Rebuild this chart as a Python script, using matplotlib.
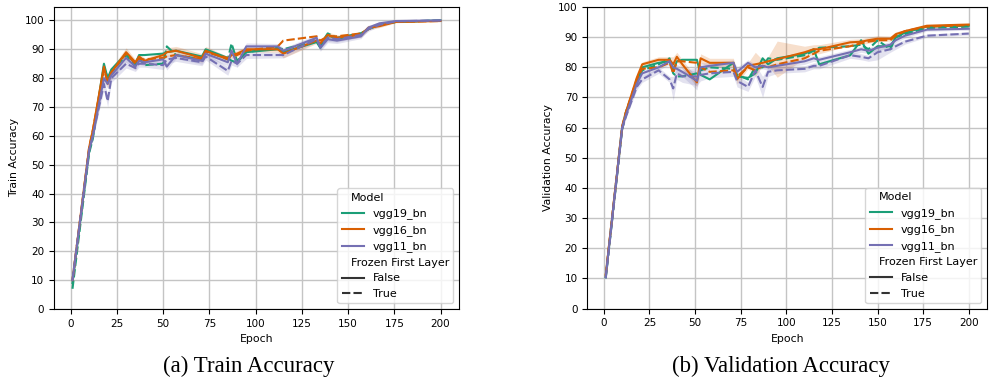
"""
Train and validation accuracy per epoch, VGG variants with and without frozen first layer.
"""

import matplotlib
matplotlib.use('Agg')
import matplotlib.pyplot as plt
from matplotlib.lines import Line2D
from matplotlib.offsetbox import HPacker, DrawingArea
import numpy as np


# Settings
plt.rcParams['font.family'] = 'DejaVu Sans'
plt.rcParams['font.size'] = 7.5
figsize = (9.89, 3.87)

models = ['vgg19_bn', 'vgg16_bn', 'vgg11_bn']
frozen = ['False', 'True']
colours = ['#1b9e77', '#d95f02', '#7570b3']

# ---- train accuracy ----
train_epoch = [1, 10, 12, 18, 20, 22, 30, 35, 37, 40, 50, 52, 57, 71, 73,
               85, 87, 90, 95, 112, 115, 133, 135, 139, 144, 157, 161, 167, 176, 200]
train_vgg19_false = [9, 55, 60, 85, 80, 83, 88.5, 85, 88, 88, 88.5, 89, 89.5, 87.5, 90,
                     87, 86, 85.5, 89, 90, 89, 92.5, 90.5, 95, 93.5, 95.5, 97, 98.5, 99.5, 100]
train_vgg19_true = [7, 54, 59, 84, 80, 82, 88, 84.5, 87, 84.5, 85, 91, 88, 86.5, 89.5,
                    86.5, 92, 86, 89, 90.5, 90, 93, 91.5, 95.5, 94, 95.5, 97, 98.5, 99.5, 100]
train_vgg16_false = [10, 56, 62, 84, 78, 82, 89, 85.5, 87.5, 86, 88, 89, 89.5, 87, 89.5,
                     86.5, 88, 88.5, 90, 90, 88.5, 93, 92, 95, 94, 95, 97.5, 98, 99.5, 99.8]
train_vgg16_true = [10, 56, 62, 83, 79, 82, 88.5, 85, 86.5, 86.5, 87, 87.5, 88, 86.5, 89,
                    87, 87.5, 88, 89.5, 91, 93, 94.5, 93, 94.5, 94.5, 95.5, 97, 98.5, 99.5, 99.8]
train_vgg11_false = [10, 55, 60, 80, 78, 81, 87, 84, 86, 85.5, 86.5, 84, 88, 86, 88.5,
                     85.5, 89.5, 85, 91, 91, 89.5, 94, 90.5, 93.5, 93, 94.5, 97.5, 99, 99.8, 100]
train_vgg11_true = [10, 55, 60, 78, 72, 80, 85, 83.5, 85, 85, 84.5, 86.5, 87, 85.5, 87.5,
                    82.5, 86, 85, 88, 88, 88, 93.5, 91, 94, 93.5, 95, 97, 98.5, 99.7, 100]
train_band_vgg16_false = [0.3, 1, 1, 1.5, 1.5, 1.5, 1.5, 1, 1, 1, 1, 1.5, 1.5, 1.5, 1.5,
                          1, 1, 1, 1, 1, 1.5, 1, 1, 1, 1, 0.8, 0.8, 0.5, 0.3, 0.2]
train_band_vgg11_false = [0.3, 1, 1, 1.5, 1.5, 1.5, 1.5, 1.2, 1.2, 1.2, 1.2, 1.2, 1.2, 1.2, 1.2,
                          1.2, 1.2, 1.2, 1.2, 1, 1, 1, 1.2, 1.2, 1, 0.8, 0.8, 0.5, 0.3, 0.2]
train_band_vgg11_true = [0.3, 1, 1, 2, 2, 1.5, 1.5, 1.2, 1.2, 1.2, 1.5, 1.5, 1.2, 1.2, 1.2,
                         1.5, 1.5, 1.2, 1.2, 1, 1, 1, 1.2, 1.2, 1, 0.8, 0.8, 0.5, 0.3, 0.2]

# ---- validation accuracy ----
val_epoch = [1, 10, 12, 18, 21, 30, 36, 38, 40, 43, 51, 53, 58, 71, 73, 79,
             83, 87, 90, 95, 110, 115, 118, 135, 141, 145, 150, 157, 160, 165, 177, 200]
val_vgg19_false = [10.5, 60, 65, 75, 80, 81.5, 82, 79, 82, 82.5, 82.5, 77.5, 76, 81.5, 77, 76.5,
                   78, 83, 81, 83, 84.5, 86, 81, 84, 89, 84.5, 87, 87, 90, 91.5, 93.5, 93.8]
val_vgg19_true = [10, 59.5, 64, 74.5, 79, 81, 83, 78, 77, 77, 78, 79, 80, 79.5, 77.5, 76,
                  80, 80, 83, 82.5, 84, 85.5, 86.5, 87, 87.5, 86, 89, 86, 90, 91, 93, 93.5]
val_vgg16_false = [11, 60, 65, 76.5, 81, 82.5, 82.5, 81, 83.5, 81, 75, 83, 81.5, 81.5, 76, 80.5,
                   81, 81.5, 82, 82.7, 85, 86, 86, 88.3, 88.5, 89, 89.5, 89.5, 91, 92, 93.8, 94.2]
val_vgg16_true = [11, 60.5, 65, 76, 79.5, 80, 81.5, 78, 82, 82, 81.5, 80, 78.5, 79, 77, 80,
                  79, 80.5, 80, 81, 83, 84.5, 85.5, 87, 88, 88.5, 89, 89, 90.5, 92, 93.5, 94]
val_vgg11_false = [10.5, 60, 64, 74.5, 78, 80, 82, 80, 79.5, 78.5, 75.5, 80, 80.5, 81.5, 78.5, 81.5,
                   80, 80.5, 80, 80.5, 82, 83, 82.5, 85, 86, 85.5, 86.5, 87.5, 89, 90.5, 92.5, 92.8]
val_vgg11_true = [10, 59.5, 63.5, 73.5, 76, 79, 76, 73, 78, 77, 77, 77.5, 78, 78.5, 75.5, 73.5,
                  79, 73.5, 78.5, 79, 79.5, 80.5, 80.5, 84, 83.5, 83, 85, 86, 87, 88.5, 90.5, 91.2]
val_band_vgg16_false = [0.3, 0.5, 0.5, 0.8, 0.8, 1, 1, 2.5, 1.5, 1.5, 1.5, 1.5, 1.5, 1.5, 1.5, 1,
                        4, 1, 1.5, 6, 2, 1.5, 1.5, 1, 1, 1, 1, 0.8, 0.8, 0.5, 0.3, 0.3]
val_band_vgg11_false = [0.3, 0.5, 0.5, 1, 1, 1, 1, 1.5, 1.5, 1.5, 3, 1.5, 1, 1, 1.5, 1,
                        1, 1, 1, 1, 1, 1, 1, 1, 1, 1, 1, 1, 0.8, 0.8, 0.5, 0.5]
val_band_vgg11_true = [0.3, 0.5, 0.5, 1, 1, 1, 1, 4, 2, 2, 3, 2, 1.5, 1.5, 2, 1.5,
                       2, 3.5, 1.5, 1, 1, 1, 1, 1, 1, 1, 2.5, 1, 1, 0.8, 0.5, 0.5]


def styles(fr):
    """
    Line style per frozen-layer setting (seaborn style dashes)
    """
    return '-' if fr == 'False' else (0, (4, 1.5))


def graph_accuracy(ax, epoch, series, bands, ylabel, ytop):
    """
    Accuracy curves for all models, with shaded spread where visible
    """
    for i, md in enumerate(models):
        for fr in frozen:
            y = np.array(series[(md, fr)])
            ax.plot(epoch, y, color = colours[i], lw = 1.5, ls = styles(fr))
            if (md, fr) in bands:
                b = np.array(bands[(md, fr)])
                ax.fill_between(epoch, y - b, y + b, color = colours[i],
                                alpha = 0.2, lw = 0)

    ax.set_xlim(-9, 210)
    ax.set_ylim(0, ytop)
    ax.set_xticks(np.arange(0, 201, 25))
    ax.set_yticks(np.arange(0, 101, 10))
    ax.grid(True, color = '#c4c4c4', lw = 1.0)
    ax.set_axisbelow(True)
    ax.set_xlabel('Epoch', fontsize = 7.8)
    ax.set_ylabel(ylabel, fontsize = 7.8)

    # Legend like seaborn: subtitles with invisible handles
    handles = [Line2D([], [], visible = False)]
    handles += [Line2D([], [], color = c, lw = 1.5) for c in colours]
    handles += [Line2D([], [], visible = False),
                Line2D([], [], color = '.2', lw = 1.5, ls = styles('False')),
                Line2D([], [], color = '.2', lw = 1.5, ls = styles('True'))]
    labels = ['Model'] + models + ['Frozen First Layer'] + frozen
    leg = ax.legend(handles, labels, loc = 'lower right', fontsize = 8)
    for hp in leg.findobj(HPacker):
        ch = hp.get_children()
        if len(ch) == 2 and isinstance(ch[0], DrawingArea):
            if not all(a.get_visible() for a in ch[0].get_children()):
                ch[0].set_width(0)
    return


#====================
if __name__ == '__main__':
    train = {
        ('vgg19_bn', 'False'): train_vgg19_false, ('vgg19_bn', 'True'): train_vgg19_true,
        ('vgg16_bn', 'False'): train_vgg16_false, ('vgg16_bn', 'True'): train_vgg16_true,
        ('vgg11_bn', 'False'): train_vgg11_false, ('vgg11_bn', 'True'): train_vgg11_true,
    }
    train_bands = {
        ('vgg16_bn', 'False'): train_band_vgg16_false,
        ('vgg11_bn', 'False'): train_band_vgg11_false,
        ('vgg11_bn', 'True'): train_band_vgg11_true,
    }
    val = {
        ('vgg19_bn', 'False'): val_vgg19_false, ('vgg19_bn', 'True'): val_vgg19_true,
        ('vgg16_bn', 'False'): val_vgg16_false, ('vgg16_bn', 'True'): val_vgg16_true,
        ('vgg11_bn', 'False'): val_vgg11_false, ('vgg11_bn', 'True'): val_vgg11_true,
    }
    val_bands = {
        ('vgg16_bn', 'False'): val_band_vgg16_false,
        ('vgg11_bn', 'False'): val_band_vgg11_false,
        ('vgg11_bn', 'True'): val_band_vgg11_true,
    }

    fig = plt.figure(figsize = figsize, dpi = 100)
    ax1 = fig.add_axes([0.0546, 0.2016, 0.4095, 0.7803])
    ax2 = fig.add_axes([0.594, 0.2028, 0.404, 0.779])

    graph_accuracy(ax1, train_epoch, train, train_bands, 'Train Accuracy', 104.65)
    graph_accuracy(ax2, val_epoch, val, val_bands, 'Validation Accuracy', 100)

    fig.text(0.2513, 1 - 366 / 387, '(a) Train Accuracy', ha = 'center', va = 'center',
             family = 'Liberation Serif', size = 16.5)
    fig.text(0.7897, 1 - 366 / 387, '(b) Validation Accuracy', ha = 'center', va = 'center',
             family = 'Liberation Serif', size = 16.5)

    plt.savefig('out.png', dpi = 100)
